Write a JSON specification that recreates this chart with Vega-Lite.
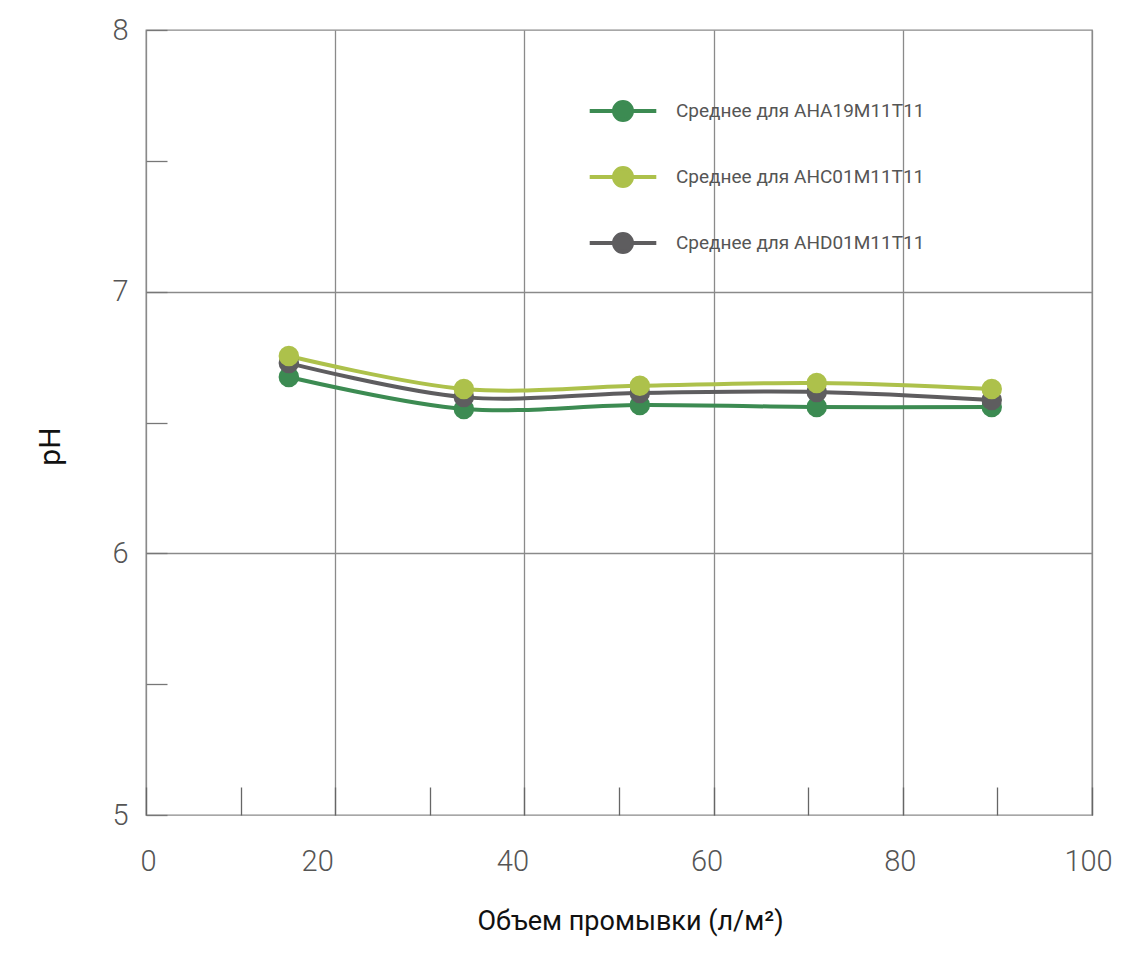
{
  "$schema": "https://vega.github.io/schema/vega-lite/v6.json",
  "width": 946,
  "height": 785,
  "autosize": {"type": "none"},
  "padding": {"left": 146, "top": 30, "right": 32, "bottom": 151},
  "background": "white",
  "config": {"view": {"stroke": "#8a8a8a", "strokeWidth": 1.3}},
  "data": {
    "values": [
      {"v": 15.1, "ph": 6.674, "s": "Среднее для AHA19M11T11"},
      {"v": 33.6, "ph": 6.552, "s": "Среднее для AHA19M11T11"},
      {"v": 52.2, "ph": 6.567, "s": "Среднее для AHA19M11T11"},
      {"v": 70.9, "ph": 6.559, "s": "Среднее для AHA19M11T11"},
      {"v": 89.4, "ph": 6.559, "s": "Среднее для AHA19M11T11"},
      {"v": 15.1, "ph": 6.727, "s": "Среднее для AHD01M11T11"},
      {"v": 33.6, "ph": 6.597, "s": "Среднее для AHD01M11T11"},
      {"v": 52.2, "ph": 6.613, "s": "Среднее для AHD01M11T11"},
      {"v": 70.9, "ph": 6.617, "s": "Среднее для AHD01M11T11"},
      {"v": 89.4, "ph": 6.586, "s": "Среднее для AHD01M11T11"},
      {"v": 15.1, "ph": 6.754, "s": "Среднее для AHC01M11T11"},
      {"v": 33.6, "ph": 6.628, "s": "Среднее для AHC01M11T11"},
      {"v": 52.2, "ph": 6.640, "s": "Среднее для AHC01M11T11"},
      {"v": 70.9, "ph": 6.651, "s": "Среднее для AHC01M11T11"},
      {"v": 89.4, "ph": 6.628, "s": "Среднее для AHC01M11T11"}
    ]
  },
  "encoding": {
    "x": {
      "field": "v",
      "type": "quantitative",
      "scale": {"domain": [0, 100], "nice": false, "zero": false},
      "axis": {
        "values": [0, 10, 20, 30, 40, 50, 60, 70, 80, 90, 100],
        "labelExpr": "datum.value % 20 == 0 ? datum.label : ''",
        "labelFlush": false,
        "labelOverlap": false,
        "labelBound": false,
        "domain": false,
        "ticks": true,
        "tickSize": -28,
        "tickColor": "#666666",
        "tickWidth": 1.3,
        "grid": true,
        "gridColor": "#8a8a8a",
        "gridWidth": 1.3,
        "gridOpacity": {"condition": {"test": "datum.value % 20 == 0", "value": 1}, "value": 0},
        "labelFont": "Roboto",
        "labelFontSize": 29,
        "labelFontWeight": 300,
        "labelColor": "#555555",
        "labelPadding": 60,
        "labelOffset": {
          "condition": [
            {"test": "datum.value == 0", "value": 2},
            {"test": "datum.value == 20", "value": -18},
            {"test": "datum.value == 40", "value": -12},
            {"test": "datum.value == 60", "value": -7},
            {"test": "datum.value == 80", "value": -3},
            {"test": "datum.value == 100", "value": -4}
          ],
          "value": 0
        },
        "title": "Объем промывки (л/м²)",
        "titleFont": "Roboto",
        "titleFontSize": 27,
        "titleFontWeight": "normal",
        "titleColor": "#111111",
        "titleX": 484,
        "titleY": 106,
        "titleBaseline": "middle",
        "titleAlign": "center"
      }
    },
    "y": {
      "field": "ph",
      "type": "quantitative",
      "scale": {"domain": [5, 8], "nice": false, "zero": false},
      "axis": {
        "values": [5, 5.5, 6, 6.5, 7, 7.5, 8],
        "labelExpr": "datum.value % 1 == 0 ? format(datum.value, 'd') : ''",
        "labelFlush": false,
        "labelOverlap": false,
        "labelBound": false,
        "domain": false,
        "ticks": true,
        "tickSize": -21,
        "tickColor": "#777777",
        "tickWidth": 1.3,
        "grid": true,
        "gridColor": "#8a8a8a",
        "gridWidth": 1.3,
        "gridOpacity": {"condition": {"test": "datum.value == 6 || datum.value == 7", "value": 1}, "value": 0},
        "labelFont": "Roboto",
        "labelFontSize": 29,
        "labelFontWeight": 300,
        "labelColor": "#555555",
        "labelPadding": 39,
        "title": "pH",
        "titleFont": "Roboto",
        "titleFontSize": 30,
        "titleFontWeight": "normal",
        "titleColor": "#111111",
        "titleAngle": -90,
        "titleX": -96,
        "titleY": 416,
        "titleBaseline": "middle",
        "titleAlign": "center"
      }
    },
    "color": {
      "field": "s",
      "type": "nominal",
      "scale": {
        "domain": ["Среднее для AHA19M11T11", "Среднее для AHC01M11T11", "Среднее для AHD01M11T11"],
        "range": ["#3c8b52", "#adc14b", "#5e5d5f"]
      },
      "legend": {
        "title": null,
        "orient": "none",
        "legendX": 466,
        "legendY": 70,
        "padding": 0,
        "symbolType": "M-3.7,0L3.7,0M1,0A1,1,0,1,1,-1,0A1,1,0,1,1,1,0Z",
        "symbolSize": 324,
        "symbolStrokeWidth": 4,
        "symbolOpacity": 1,
        "labelFont": "Roboto",
        "labelFontSize": 19,
        "labelColor": "#555555",
        "labelLimit": 0,
        "labelOffset": 42,
        "rowPadding": 32
      }
    }
  },
  "layer": [
    {"mark": {"type": "line", "interpolate": "catmull-rom", "strokeWidth": 4}},
    {"mark": {"type": "point", "filled": true, "opacity": 1, "size": 420, "shape": "circle"}}
  ]
}
